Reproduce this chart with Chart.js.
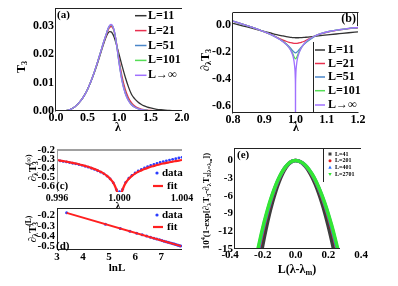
<!DOCTYPE html>
<html><head><meta charset="utf-8">
<script src="https://cdn.jsdelivr.net/npm/chart.js@4"></script>
<style>
html,body{margin:0;padding:0;background:#fff;}
body{width:398px;height:286px;position:relative;overflow:hidden;}
canvas{position:absolute;}
</style></head><body>
<script>
// ================= DATA =================
// (a) T3 vs lambda
const aLambda = [0,0.05,0.1,0.15,0.2,0.25,0.3,0.35,0.4,0.45,0.5,0.55,0.6,0.65,0.7,0.75,0.8,0.825,0.85,0.875,0.9,0.925,0.95,0.975,1.0,1.05,1.1,1.15,1.2,1.25,1.3,1.35,1.4,1.45,1.5,1.6,1.7,1.8,1.9,2.0];
const aL11  = [0,0,0,0.0001,0.0003,0.0008,0.0015,0.0025,0.0038,0.0055,0.0076,0.0101,0.0130,0.0162,0.0197,0.0233,0.0264,0.0275,0.0280,0.0279,0.0272,0.0259,0.0241,0.0221,0.0200,0.0158,0.0119,0.0085,0.0058,0.0043,0.0032,0.0024,0.0018,0.0014,0.0011,0.0006,0.0004,0.0002,0.0001,0.00005];
const aL21  = [0,0,0,0.0001,0.0003,0.0008,0.0015,0.0025,0.0038,0.0055,0.0076,0.0102,0.0132,0.0166,0.0201,0.0237,0.0269,0.0284,0.0294,0.0298,0.0294,0.0279,0.0253,0.0219,0.0182,0.0120,0.0076,0.0047,0.0029,0.0018,0.0011,0.0007,0.00045,0.0003,0.0002,0.0001,0.00005,0,0,0];
const aL51  = [0,0,0,0.0001,0.0003,0.0008,0.0015,0.0025,0.0038,0.0055,0.0076,0.0102,0.0132,0.0166,0.0202,0.0239,0.0273,0.0289,0.0299,0.0303,0.0298,0.0281,0.0252,0.0214,0.0174,0.0108,0.0065,0.0039,0.0023,0.0014,0.00085,0.0005,0.0003,0.0002,0.0001,0.00005,0,0,0,0];
const aL101 = [0,0,0,0.0001,0.0003,0.0008,0.0015,0.0025,0.0038,0.0055,0.0076,0.0102,0.0132,0.0166,0.0202,0.0239,0.0273,0.0289,0.0300,0.0304,0.0299,0.0282,0.0252,0.0213,0.0172,0.0105,0.0062,0.0037,0.0022,0.0013,0.0008,0.0005,0.0003,0.0002,0.0001,0.00005,0,0,0,0];
const aLinf = [0,0,0,0.0001,0.0003,0.0008,0.0015,0.0025,0.0038,0.0055,0.0076,0.0102,0.0132,0.0166,0.0202,0.0239,0.0273,0.0290,0.0301,0.0305,0.0300,0.0283,0.0252,0.0212,0.0170,0.0103,0.0061,0.0036,0.0021,0.0013,0.0008,0.0005,0.0003,0.0002,0.0001,0.00005,0,0,0,0];
const aXTicks = [0,0.5,1,1.5,2], aXLabels = ['0.0','0.5','1.0','1.5','2.0'];
const aYTicks = [0,0.01,0.02,0.03], aYLabels = ['0.00','0.01','0.02','0.03'];

// (b) d(lambda) T3 vs lambda
const bLambda = [0.8,0.83,0.86,0.89,0.92,0.94,0.96,0.97,0.98,0.985,0.99,0.995,1.0,1.005,1.01,1.015,1.02,1.03,1.04,1.06,1.08,1.11,1.14,1.17,1.2];
const bL11  = [0.013,-0.005,-0.022,-0.040,-0.058,-0.070,-0.080,-0.085,-0.089,-0.0905,-0.092,-0.0925,-0.093,-0.093,-0.093,-0.0925,-0.092,-0.090,-0.088,-0.083,-0.078,-0.070,-0.063,-0.056,-0.050];
const bL21  = [0.030,0.008,-0.015,-0.040,-0.067,-0.090,-0.110,-0.119,-0.127,-0.130,-0.132,-0.134,-0.135,-0.134,-0.132,-0.130,-0.126,-0.117,-0.105,-0.083,-0.065,-0.047,-0.035,-0.026,-0.019];
const bL51  = [0.030,0.008,-0.015,-0.040,-0.068,-0.091,-0.120,-0.138,-0.160,-0.173,-0.187,-0.199,-0.205,-0.199,-0.186,-0.172,-0.159,-0.136,-0.117,-0.085,-0.065,-0.046,-0.034,-0.025,-0.018];
const bL101 = [0.030,0.008,-0.015,-0.040,-0.068,-0.092,-0.121,-0.141,-0.167,-0.184,-0.205,-0.232,-0.250,-0.232,-0.204,-0.183,-0.163,-0.133,-0.111,-0.082,-0.063,-0.045,-0.033,-0.024,-0.017];
const bInfLambda = [0.8,0.83,0.86,0.89,0.92,0.94,0.95,0.96,0.97,0.98,0.985,0.99,0.994,0.997,0.9985,0.9993,0.9998,1.0,1.0002,1.0007,1.0015,1.003,1.006,1.01,1.015,1.02,1.03,1.04,1.06,1.08,1.11,1.14,1.17,1.2];
const bLinf = [0.030,0.008,-0.015,-0.040,-0.068,-0.092,-0.106,-0.122,-0.142,-0.168,-0.188,-0.215,-0.25,-0.30,-0.34,-0.39,-0.47,-0.80,-0.47,-0.39,-0.34,-0.30,-0.25,-0.215,-0.185,-0.163,-0.132,-0.110,-0.082,-0.063,-0.045,-0.033,-0.024,-0.017];
const bXTicks = [0.8,0.9,1.0,1.1,1.2], bXLabels = ['0.8','0.9','1.0','1.1','1.2'];
const bYTicks = [-0.6,-0.4,-0.2,0], bYLabels = ['-0.6','-0.4','-0.2','0.0'];

// (c) d(lambda) T3(inf) near lambda = 1
const cLambda = [0.9960,0.9962,0.9964,0.9966,0.9968,0.9970,0.9972,0.9974,0.9976,0.9978,0.9980,0.9982,0.9984,0.9986,0.9988,0.9990,0.9992,0.9994,0.9996,0.9998,1.0000,1.0002,1.0004,1.0006,1.0008,1.0010,1.0012,1.0014,1.0016,1.0018,1.0020,1.0022,1.0024,1.0026,1.0028,1.0030,1.0032,1.0034,1.0036,1.0038,1.0040];
const cData = [-0.316,-0.322,-0.328,-0.334,-0.341,-0.348,-0.355,-0.363,-0.372,-0.382,-0.392,-0.404,-0.417,-0.432,-0.448,-0.467,-0.492,-0.524,-0.567,-0.643,-0.665,-0.640,-0.562,-0.516,-0.483,-0.456,-0.435,-0.417,-0.401,-0.386,-0.373,-0.361,-0.350,-0.339,-0.330,-0.321,-0.313,-0.304,-0.297,-0.289,-0.282];
const cFit  = [-0.312,-0.318,-0.324,-0.330,-0.337,-0.344,-0.351,-0.359,-0.368,-0.378,-0.388,-0.400,-0.413,-0.428,-0.444,-0.464,-0.489,-0.521,-0.565,-0.642,-0.750,-0.642,-0.565,-0.521,-0.489,-0.464,-0.444,-0.428,-0.413,-0.400,-0.388,-0.378,-0.368,-0.359,-0.351,-0.344,-0.337,-0.330,-0.324,-0.318,-0.312];
const cXTicks = [0.996,1.0,1.004], cXLabels = ['0.996','1.000','1.004'];
const cYTicks = [-0.6,-0.5,-0.4,-0.3,-0.2], cYLabels = ['-0.6','-0.5','-0.4','-0.3','-0.2'];

// (d) d(lambda) T3(L) vs lnL
const dLnL  = [3.37,4.86,5.43,5.80,6.06,6.27,6.44,6.59,6.72,6.83,6.94,7.03,7.11,7.19,7.26,7.33,7.40,7.46,7.51,7.56,7.62,7.66,7.71,7.75];
const dData = [-0.174,-0.285,-0.327,-0.355,-0.374,-0.390,-0.402,-0.413,-0.423,-0.431,-0.439,-0.446,-0.452,-0.458,-0.463,-0.468,-0.473,-0.478,-0.481,-0.485,-0.490,-0.493,-0.496,-0.499];
const dFitX = [3.37,7.77], dFitY = [-0.174,-0.501];
const dXTicks = [3,4,5,6,7], dXLabels = ['3','4','5','6','7'];
const dYTicks = [-0.5,-0.4,-0.3,-0.2], dYLabels = ['-0.5','-0.4','-0.3','-0.2'];

// (e) scaling collapse
const eX = [-0.26,-0.24,-0.22,-0.20,-0.18,-0.16,-0.14,-0.12,-0.10,-0.08,-0.06,-0.04,-0.02,0,0.02,0.04,0.06,0.08,0.10,0.12,0.14,0.16,0.18,0.20,0.22,0.24,0.26,0.28];
const eL41   = [-24.1,-20.6,-17.3,-14.3,-11.6,-9.14,-7.0,-5.14,-3.57,-2.28,-1.29,-0.57,-0.14,0,-0.11,-0.45,-1.00,-1.78,-2.79,-4.01,-5.46,-7.13,-9.03,-11.15,-13.49,-16.05,-18.84,-21.85];
const eL201  = [-20.28,-17.28,-14.52,-12.0,-9.72,-7.68,-5.88,-4.32,-3.0,-1.92,-1.08,-0.48,-0.12,0,-0.095,-0.38,-0.85,-1.52,-2.37,-3.41,-4.65,-6.07,-7.68,-9.48,-11.47,-13.65,-16.02,-18.58];
const eL401  = [-19.74,-16.82,-14.13,-11.68,-9.46,-7.48,-5.72,-4.20,-2.92,-1.87,-1.05,-0.47,-0.12,0,-0.09,-0.37,-0.83,-1.48,-2.31,-3.33,-4.53,-5.91,-7.48,-9.24,-11.18,-13.31,-15.62,-18.11];
const eL2701 = [-19.17,-16.33,-13.73,-11.34,-9.19,-7.26,-5.56,-4.08,-2.84,-1.82,-1.02,-0.45,-0.11,0,-0.09,-0.36,-0.81,-1.44,-2.25,-3.24,-4.42,-5.77,-7.30,-9.01,-10.90,-12.98,-15.23,-17.66];
const eXTicks = [-0.4,-0.2,0,0.2,0.4], eXLabels = ['-0.4','-0.2','0.0','0.2','0.4'];
const eYTicks = [-15,-12,-9,-6,-3,0], eYLabels = ['-15','-12','-9','-6','-3','0'];

// ================= DRAWING =================
const SERIF = "'Liberation Serif','Times New Roman',serif";
Chart.defaults.font.family = SERIF;
const C = {k:'#333333', r:'#e8304f', b:'#4a86c8', g:'#55dd55', p:'#a070ff'};

const pts = (xs, ys) => xs.map((x,i)=>({x:x, y:ys[i]}));
function line(xs, ys, col, w, order){ return {data:pts(xs,ys), showLine:true, borderColor:col, borderWidth:w, pointRadius:0, cubicInterpolationMode:'monotone', order:order}; }
function dots(xs, ys, col, r, order){ return {data:pts(xs,ys), showLine:false, pointRadius:r, pointBackgroundColor:col, pointBorderWidth:0, borderColor:col, order:order}; }

function rich(ctx, x, y, parts, fs, rot, align){
  ctx.save(); ctx.translate(x,y); if(rot) ctx.rotate(-Math.PI/2);
  const f = m => m===0 ? fs : (m===3 ? fs*0.55 : fs*0.68);
  const dy = m => m===1 ? fs*0.28 : m===2||m===4 ? -fs*0.38 : m===3 ? fs*0.45 : 0;
  let W=0, last=0;
  parts.forEach(([t,m])=>{ ctx.font='bold '+f(m)+'px '+SERIF; const w=ctx.measureText(t).width;
    if(m===4){ W = Math.max(W, last + w); } else { if(m===1) last=W; W+=w; } });
  let cx = align==='left'?0:align==='right'?-W:-W/2; let lastX=cx;
  ctx.textBaseline='middle'; ctx.fillStyle='#000'; ctx.textAlign='left';
  parts.forEach(([t,m])=>{ ctx.font='bold '+f(m)+'px '+SERIF; const w=ctx.measureText(t).width;
    if(m===4){ ctx.fillText(t, lastX, dy(m)); cx=Math.max(cx,lastX+w); }
    else { if(m===1) lastX=cx; ctx.fillText(t, cx, dy(m)); cx+=w; } });
  ctx.restore();
}
function hl(ctx,x1,x2,y,col,w){ctx.beginPath();ctx.strokeStyle=col;ctx.lineWidth=w;ctx.moveTo(x1,y);ctx.lineTo(x2,y);ctx.stroke();}
function vl(ctx,x,y1,y2,col,w){ctx.beginPath();ctx.strokeStyle=col;ctx.lineWidth=w;ctx.moveTo(x,y1);ctx.lineTo(x,y2);ctx.stroke();}
function txt(ctx,s,x,y,fs,align){ctx.font='bold '+fs+'px '+SERIF;ctx.fillStyle='#000';ctx.textBaseline='middle';ctx.textAlign=align||'left';ctx.fillText(s,x,y);}
function dot(ctx,x,y,r,col){ctx.beginPath();ctx.fillStyle=col;ctx.arc(x,y,r,0,Math.PI*2);ctx.fill();}
function tri(ctx,x,y,s,col,down){const d=down?-1:1;ctx.beginPath();ctx.fillStyle=col;ctx.moveTo(x,y-s*d);ctx.lineTo(x+s,y+s*0.8*d);ctx.lineTo(x-s,y+s*0.8*d);ctx.closePath();ctx.fill();}

function panel(o){
  const cv=document.createElement('canvas');
  const left=o.l-o.pl, top=o.t-o.pt;
  const w=o.r-o.l+o.pl+o.pr, h=o.b-o.t+o.pt+o.pb;
  cv.width=w; cv.height=h; cv.style.left=left+'px'; cv.style.top=top+'px'; cv.style.width=w+'px'; cv.style.height=h+'px';
  document.body.appendChild(cv);
  const axis=(a,isX)=>({type:'linear', min:a.min, max:a.max,
    grid:{display:false, drawTicks:false}, border:{display:false},
    afterBuildTicks:s=>{ s.ticks=a.ticks.map(v=>({value:v})); },
    afterFit:s=>{ if(isX) s.height=o.pb; else s.width=o.pl; },
    ticks:{autoSkip:false, maxRotation:0, minRotation:0, padding:a.pad, color:'#000',
      font:{family:SERIF, size:a.fs, weight:'bold'}, callback:(v,i)=>a.labels[i]}});
  new Chart(cv,{type:'scatter', data:{datasets:o.datasets},
    options:{responsive:false, animation:false, events:[],
      layout:{padding:{left:0, top:o.pt, right:o.pr, bottom:0}},
      plugins:{legend:{display:false}, tooltip:{enabled:false}},
      scales:{x:axis(o.x,true), y:axis(o.y,false)}},
    plugins:[{id:'deco', afterDraw(ch){ const c=ch.ctx; c.save(); c.translate(-left,-top); o.deco(c); c.restore(); }}]});
}

// ---- (a)
panel({l:56,t:8,r:182,b:111,pl:56,pt:8,pr:16,pb:29,
  x:{min:0,max:2,ticks:aXTicks,labels:aXLabels,fs:12,pad:0},
  y:{min:0,max:0.0359,ticks:aYTicks,labels:aYLabels,fs:12,pad:2},
  datasets:[line(aLambda,aL11,C.k,1.3,4), line(aLambda,aL21,C.r,1.3,3), line(aLambda,aL51,C.b,1.3,2), line(aLambda,aL101,C.g,1.3,1), line(aLambda,aLinf,C.p,1.3,0)],
  deco(ctx){
    vl(ctx,55.5,8,111.5,'#222',1); hl(ctx,55.5,182,110.5,'#222',1); hl(ctx,55.5,182,8.5,'#222',1);
    txt(ctx,'(a)',57,15,11);
    const labs=['L=11','L=21','L=51','L=101','L\u2192\u221E'], cols=[C.k,C.r,C.b,C.g,C.p], ys=[15.7,30.6,45.5,60.4,75.3];
    labs.forEach((s,i)=>{ hl(ctx,135,146.5,ys[i],cols[i],1.5); txt(ctx,s,148,ys[i],12); });
    rich(ctx,22,67,[['T',0],['3',1]],12,true);
    rich(ctx,118,128,[['\u03BB',0]],12,false);
  }});

// ---- (b)
panel({l:233,t:13,r:358,b:113,pl:35,pt:13,pr:40,pb:27,
  x:{min:0.8,max:1.2,ticks:bXTicks,labels:bXLabels,fs:12,pad:0},
  y:{min:-0.65,max:0.09,ticks:bYTicks,labels:bYLabels,fs:12,pad:2},
  datasets:[line(bLambda,bL11,C.k,1.3,4), line(bLambda,bL21,C.r,1.3,3), line(bLambda,bL51,C.b,1.3,2), line(bLambda,bL101,C.g,1.3,1), line(bInfLambda,bLinf,C.p,1.3,0)],
  deco(ctx){
    vl(ctx,232.5,13,113.5,'#222',1); hl(ctx,232.5,358.5,112.5,'#222',1); hl(ctx,232.5,358.5,12.5,'#222',1);
    vl(ctx,357.5,12.5,26,'#222',1); vl(ctx,313.5,42,113,'#222',1);
    txt(ctx,'(b)',356,19,12,'right');
    const labs=['L=11','L=21','L=51','L=101','L\u2192\u221E'], cols=[C.k,C.r,C.b,C.g,C.p], ys=[50,63.5,77,90.7,105];
    labs.forEach((s,i)=>{ hl(ctx,315,325,ys[i],cols[i],1.5); txt(ctx,s,328,ys[i],12); });
    rich(ctx,206,60,[['\u2202',0],['\u03BB',1],['T',0],['3',1]],12,true);
    rich(ctx,296,128,[['\u03BB',0]],12,false);
  }});

// ---- (c)
panel({l:57,t:150,r:182,b:192,pl:57,pt:10,pr:16,pb:20,
  x:{min:0.996,max:1.004,ticks:cXTicks,labels:cXLabels,fs:10,pad:0},
  y:{min:-0.67,max:-0.2,ticks:cYTicks,labels:cYLabels,fs:11,pad:2},
  datasets:[line(cLambda,cFit,'#ff2020',2.2,0), dots(cLambda,cData,'#2a3cff',1.4,1)],
  deco(ctx){
    hl(ctx,57,182,150,'#a0a0a0',2); vl(ctx,57.5,150,192,'#a0a0a0',1);
    txt(ctx,'(c)',56,186,11);
    dot(ctx,157,173,1.6,'#2a3cff'); txt(ctx,'data',162,173,11);
    hl(ctx,153,163,186,'#ff2020',2.2); txt(ctx,'fit',167,186,11);
    rich(ctx,33,168,[['\u2202',0],['\u03BB',1],['T',0],['3',1],['(\u221E)',4]],11,true);
    rich(ctx,118,206,[['\u03BB',0]],10,false);
  }});

// ---- (d)
panel({l:57,t:208,r:182,b:250,pl:57,pt:8,pr:16,pb:36,
  x:{min:3,max:7.8,ticks:dXTicks,labels:dXLabels,fs:11,pad:1},
  y:{min:-0.539,max:-0.132,ticks:dYTicks,labels:dYLabels,fs:11,pad:2},
  datasets:[line(dFitX,dFitY,'#ff2020',2,0), dots(dLnL,dData,'#2a3cff',1.5,1)],
  deco(ctx){
    hl(ctx,57,182,208.5,'#222',1); vl(ctx,57.5,208,250,'#222',1); hl(ctx,57,182,249.5,'#222',1);
    txt(ctx,'(d)',56,246,11);
    dot(ctx,157,215,1.6,'#2a3cff'); txt(ctx,'data',162,215,11);
    hl(ctx,153,163,227,'#ff2020',2.2); txt(ctx,'fit',167,227,11);
    rich(ctx,33,229,[['\u2202',0],['\u03BB',1],['T',0],['3',1],['(L)',4]],11,true);
    rich(ctx,117,268,[['lnL',0]],11,false);
  }});

// ---- (e)
const E = {k:'#3d3d3d', r:'#e02020', b:'#2f6fff', g:'#33e633'};
panel({l:235,t:148,r:361,b:249,pl:37,pt:8,pr:37,pb:37,
  x:{min:-0.37,max:0.4,ticks:eXTicks,labels:eXLabels,fs:11,pad:0},
  y:{min:-15,max:2.02,ticks:eYTicks,labels:eYLabels,fs:11,pad:2},
  datasets:[line(eX,eL41,E.k,3.5,3), line(eX,eL201,E.r,3.5,2), line(eX,eL401,E.b,3.5,1), line(eX,eL2701,E.g,3.5,0)],
  deco(ctx){
    hl(ctx,235,361,148.5,'#222',1); vl(ctx,234.5,148,249,'#222',1); hl(ctx,235,340,248.5,'#222',1);
    vl(ctx,323.5,148,182,'#222',1);
    txt(ctx,'(e)',237,155,11);
    const ys=[154,160.7,167.3,174.3], labs=['L=41','L=201','L=401','L=2701'];
    ctx.fillStyle=E.k; ctx.fillRect(328.5,152.5,3,3);
    dot(ctx,330,ys[1],1.5,E.r); tri(ctx,330,ys[2],1.7,E.b,false); tri(ctx,330,ys[3],1.7,E.g,true);
    labs.forEach((s,i)=>txt(ctx,s,335,ys[i],6));
    rich(ctx,207,201,[['10',0],['4',2],['(1-exp[\u2202',0],['\u03BB',1],['T',0],['3',1],['-\u2202',0],['\u03BB',1],['T',0],['3',1],['|',0],['\u03BB=\u03BB',1],['m',3],['])',0]],9,true);
    rich(ctx,297,270,[['L(\u03BB-\u03BB',0],['m',1],[')',0]],12,false);
  }});
</script>
</body></html>
